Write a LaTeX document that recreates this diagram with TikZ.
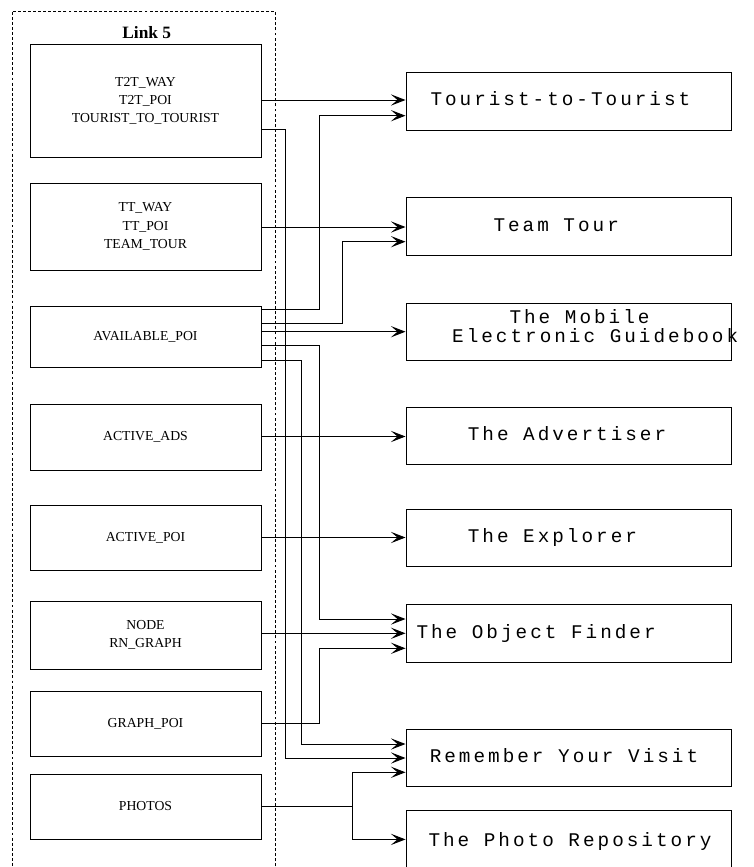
\documentclass[tikz,border=0pt]{standalone}
\usepackage{fontspec}
\setmainfont{Liberation Serif}
\newfontfamily\appfont[LetterSpace=15.5]{Liberation Mono}
\usetikzlibrary{arrows.meta}

\begin{document}
\begin{tikzpicture}[
    x=0.75pt, y=-0.75pt,
    >={Stealth[length=11pt, width=8.5pt, inset=5pt]},
    line width=0.75pt,
    every node/.style={inner sep=0pt},
    feed/.style={
        draw,
        rectangle,
        minimum width=173.25pt,
        align=center,
        font=\fontsize{10.3}{13.7}\selectfont
    },
    app/.style={
        draw,
        rectangle,
        minimum width=243.75pt,
        minimum height=43pt
    },
    apptext/.style={
        anchor=base west,
        font=\fontsize{14.5}{14.5}\selectfont\appfont
    }
]
\clip (0,0) rectangle (753,867);

% frame
\draw[dash pattern=on 2.2pt off 1.6pt, line width=0.6pt] (12.3,11.7) rectangle (275.7,890);
\node[anchor=base, font=\fontsize{13}{15}\selectfont\bfseries] (linkttl) at (146.7,38.3) {Link 5};

% data on the link
\node[feed, minimum height=84pt] (t2t) at (145.5,101) {T2T\_WAY\\T2T\_POI\\TOURIST\_TO\_TOURIST};
\node[feed, minimum height=65.25pt] (tt) at (145.5,226.5) {TT\_WAY\\TT\_POI\\TEAM\_TOUR};
\node[feed, minimum height=45.75pt] (avail) at (145.5,336.5) {AVAILABLE\_POI};
\node[feed, minimum height=49.5pt] (ads) at (145.5,437) {ACTIVE\_ADS};
\node[feed, minimum height=48.75pt] (actpoi) at (145.5,537.5) {ACTIVE\_POI};
\node[feed, minimum height=51pt] (rngraph) at (145.5,635) {NODE\\RN\_GRAPH};
\node[feed, minimum height=48.75pt] (gpoi) at (145.5,723.5) {GRAPH\_POI};
\node[feed, minimum height=48.75pt] (photos) at (145.5,806.5) {PHOTOS};

% applications
\node[app] (tour) at (568.5,101.4) {};
\node[app] (team) at (568.5,226.5) {};
\node[app] (guide) at (568.5,331.7) {};
\node[app] (adv) at (568.5,436.2) {};
\node[app] (expl) at (568.5,537.7) {};
\node[app] (finder) at (568.5,633.5) {};
\node[app] (visit) at (568.5,758) {};
\node[app] (repo) at (568.5,839.4) {};

\node[apptext] (tourtxt) at (430,105.7) {Tourist-to-Tourist};
\node[apptext] (teamtxt) at (493,231.7) {Team Tour};
\node[apptext, align=left] (guidetxt) at (451.7,342.8) {\hspace*{43pt}The Mobile\\Electronic Guidebook};
\node[apptext] (advtxt) at (467.3,440.7) {The Advertiser};
\node[apptext] (expltxt) at (467.3,542.3) {The Explorer};
\node[apptext] (findertxt) at (416,638.3) {The Object Finder};
\node[apptext] (visittxt) at (429.3,762.7) {Remember Your Visit};
\node[apptext] (repotxt) at (428,846) {The Photo Repository};

% trunks
\coordinate (ta) at (285,0);
\coordinate (tb) at (301,0);
\coordinate (tc) at (319,0);
\coordinate (td) at (342.7,0);
\coordinate (te) at (352.7,0);

% connections
\draw[->] (t2t.east |- 0,100) -- (tour.west |- 0,100);
\draw[->] (t2t.east |- 0,129) -- (ta |- 0,129) |- (visit.west |- 0,758);
\draw[->] (tt.east |- 0,227) -- (team.west |- 0,227);

\draw[->] (avail.east |- 0,309.3) -- (tc |- 0,309.3) |- (tour.west |- 0,115.7);
\draw[->] (avail.east |- 0,323.3) -- (td |- 0,323.3) |- (team.west |- 0,241.7);
\draw[->] (avail.east |- 0,331.7) -- (guide.west);
\draw[->] (avail.east |- 0,345.7) -- (tc |- 0,345.7) |- (finder.west |- 0,619);
\draw[->] (avail.east |- 0,360.3) -- (tb |- 0,360.3) |- (visit.west |- 0,744);

\draw[->] (ads.east |- 0,436.5) -- (adv.west |- 0,436.5);
\draw[->] (actpoi.east) -- (expl.west |- actpoi.east);
\draw[->] (rngraph.east |- 0,633.3) -- (finder.west |- 0,633.3);
\draw[->] (gpoi.east |- 0,723.3) -- (tc |- 0,723.3) |- (finder.west |- 0,648.3);

\draw[->] (photos.east) -- (te |- photos.east) |- (visit.west |- 0,772.3);
\draw[->] (te |- photos.east) |- (repo.west);
\end{tikzpicture}
\end{document}
